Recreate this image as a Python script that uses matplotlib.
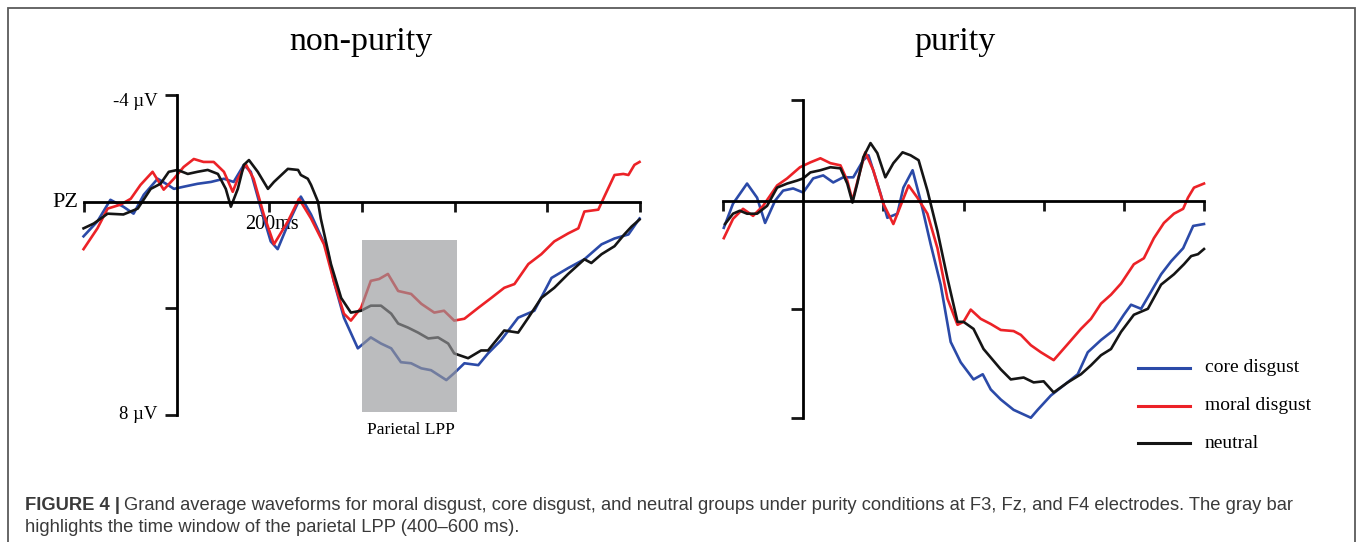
import matplotlib
matplotlib.use("Agg")
import matplotlib.pyplot as plt
from matplotlib.patches import Rectangle
import numpy as np

# ---- data (time in ms, amplitude in µV, negative plotted upward) ----
np_black_t = [-201, -179, -149, -115, -84, -56, -35, -17, 2, 24, 45, 67, 89, 106, 117, 132, 145, 156, 175, 197,
              210, 240, 262, 268, 283, 290, 305, 311, 333, 355, 376, 398, 419, 441, 463, 478, 499, 521, 543, 564,
              586, 599, 629, 657, 672, 707, 737, 759, 787, 815, 845, 880, 895, 917, 945, 966, 982, 999]
np_black_v = [1.00, 0.82, 0.45, 0.48, 0.26, -0.48, -0.67, -1.12, -1.19, -1.04, -1.12, -1.19, -1.04, -0.48, 0.19,
              -0.48, -1.38, -1.56, -1.12, -0.48, -0.74, -1.23, -1.19, -1.00, -0.86, -0.63, 0.00, 0.63, 2.34, 3.61,
              4.16, 4.09, 3.90, 3.90, 4.20, 4.57, 4.72, 4.91, 5.13, 5.09, 5.32, 5.69, 5.87, 5.58, 5.58, 4.83, 4.91,
              4.35, 3.61, 3.23, 2.71, 2.16, 2.30, 1.97, 1.67, 1.23, 0.93, 0.67]

np_red_t = [-201, -171, -149, -121, -99, -78, -52, -28, -6, 15, 37, 58, 80, 102, 121, 132, 149, 166, 188, 210,
            240, 264, 290, 318, 339, 361, 376, 398, 419, 437, 456, 478, 506, 528, 556, 577, 599, 621, 651, 679,
            707, 729, 759, 787, 815, 845, 867, 880, 910, 923, 945, 964, 975, 988, 999]
np_red_v = [1.78, 1.00, 0.26, 0.11, -0.11, -0.63, -1.12, -0.45, -0.86, -1.30, -1.60, -1.49, -1.49, -1.12, -0.37,
            -0.86, -1.41, -0.86, 0.48, 1.60, 0.74, -0.11, 0.63, 1.60, 2.97, 4.20, 4.46, 3.98, 2.97, 2.90, 2.71,
            3.35, 3.46, 3.83, 4.16, 4.09, 4.46, 4.39, 3.98, 3.61, 3.23, 3.09, 2.34, 1.97, 1.49, 1.19, 1.00, 0.37,
            0.30, -0.19, -1.00, -1.04, -1.00, -1.38, -1.49]

np_blue_t = [-201, -171, -143, -115, -93, -71, -41, -19, -6, 15, 45, 74, 102, 123, 145, 160, 182, 203, 218, 240,
             268, 290, 326, 339, 361, 391, 419, 441, 463, 484, 506, 528, 549, 582, 599, 621, 651, 672, 700, 737,
             772, 809, 845, 880, 917, 945, 975, 999]
np_blue_v = [1.30, 0.74, -0.07, 0.19, 0.45, -0.26, -0.86, -0.63, -0.48, -0.56, -0.67, -0.74, -0.86, -0.74, -1.38,
             -1.12, 0.26, 1.49, 1.78, 0.86, -0.19, 0.48, 1.86, 2.97, 4.35, 5.50, 5.09, 5.32, 5.50, 6.02, 6.06,
             6.25, 6.32, 6.69, 6.43, 6.06, 6.13, 5.69, 5.20, 4.35, 4.09, 2.86, 2.49, 2.16, 1.60, 1.38, 1.23, 0.63]

p_black_t = [-195, -175, -158, -140, -115, -90, -65, -40, -15, 0, 18, 43, 68, 93, 110, 123, 135, 150, 168, 185,
             205, 225, 248, 268, 288, 310, 335, 360, 385, 400, 425, 450, 493, 518, 550, 575, 600, 625, 660, 693,
             718, 743, 768, 793, 825, 860, 893, 925, 950, 968, 985, 1000]
p_black_v = [0.86, 0.48, 0.37, 0.48, 0.48, 0.19, -0.48, -0.63, -0.74, -0.82, -1.04, -1.12, -1.23, -1.19, -0.63,
             0.07, -0.63, -1.60, -2.12, -1.75, -0.86, -1.38, -1.78, -1.67, -1.49, -0.37, 1.12, 2.86, 4.46, 4.46,
             4.72, 5.46, 6.21, 6.58, 6.51, 6.69, 6.65, 7.06, 6.69, 6.39, 6.06, 5.69, 5.46, 4.83, 4.20, 3.98, 3.09,
             2.71, 2.34, 2.04, 1.97, 1.78]

p_red_t = [-198, -175, -150, -125, -100, -65, -40, -8, 18, 43, 68, 93, 110, 123, 138, 155, 175, 200, 225, 248,
           263, 285, 310, 335, 360, 385, 400, 418, 443, 468, 493, 525, 543, 568, 593, 625, 660, 693, 718, 743,
           768, 793, 825, 850, 875, 900, 925, 948, 960, 975, 1000]
p_red_v = [1.38, 0.67, 0.30, 0.56, 0.19, -0.56, -0.82, -1.23, -1.41, -1.56, -1.38, -1.30, -0.74, 0.00, -0.86,
           -1.78, -1.12, 0.11, 0.86, 0.00, -0.56, -0.11, 0.48, 1.75, 3.61, 4.57, 4.46, 4.01, 4.35, 4.54, 4.76,
           4.80, 4.94, 5.32, 5.58, 5.87, 5.28, 4.72, 4.35, 3.79, 3.46, 3.05, 2.34, 2.12, 1.38, 0.82, 0.48, 0.30,
           -0.11, -0.48, -0.63]

p_blue_t = [-198, -175, -140, -115, -95, -70, -50, -25, 0, 25, 50, 75, 100, 125, 150, 163, 193, 210, 235, 250,
            273, 293, 318, 343, 368, 393, 425, 448, 468, 493, 525, 568, 585, 618, 650, 685, 710, 743, 775, 800,
            818, 843, 868, 893, 918, 948, 973, 1000]
p_blue_v = [1.00, 0.11, -0.63, -0.11, 0.82, 0.00, -0.37, -0.45, -0.30, -0.82, -0.93, -0.67, -0.86, -0.86, -1.49,
            -1.67, -0.26, 0.63, 0.48, -0.48, -1.12, 0.00, 1.60, 3.09, 5.20, 5.95, 6.58, 6.39, 6.95, 7.32, 7.70,
            7.99, 7.70, 7.17, 6.80, 6.39, 5.58, 5.13, 4.76, 4.20, 3.83, 3.98, 3.35, 2.71, 2.23, 1.75, 0.93, 0.86]

x_ticks = [-200, 200, 400, 600, 800, 1000]
lpp_window = (400, 605)
lpp_range = (1.42, 7.9)

BLUE = "#2b4aa8"
RED = "#ec2227"
BLACK = "#151515"

W, H = 1358, 542
fig = plt.figure(figsize=(W / 100, H / 100), dpi=100)
fig.patch.set_facecolor("white")
SERIF = ["Liberation Serif", "DejaVu Serif"]
SANS = ["Liberation Sans", "DejaVu Sans"]


def px_axes(x0, x1, ytop, ybot):
    return fig.add_axes([x0 / W, 1 - ybot / H, (x1 - x0) / W, (ybot - ytop) / H])


def setup(ax, ytop_val, yticks):
    ax.set_xlim(-200, 1000)
    ax.set_ylim(8, -4)
    ax.patch.set_alpha(0)
    for s in ["top", "right"]:
        ax.spines[s].set_visible(False)
    ax.spines["left"].set_position(("data", 0))
    ax.spines["bottom"].set_position(("data", 0))
    ax.spines["left"].set_bounds(ytop_val, 8)
    ax.spines["left"].set_linewidth(2)
    ax.spines["bottom"].set_linewidth(2)
    ax.set_xticks(x_ticks)
    ax.set_yticks(yticks)
    ax.set_xticklabels([])
    ax.set_yticklabels([])
    ax.tick_params(axis="x", direction="out", length=7, width=2, color=BLACK)
    ax.tick_params(axis="y", direction="out", length=9, width=2, color=BLACK)


def draw_lines(ax, series):
    for t, v, c in series:
        ax.plot(t, v, color=c, lw=1.9, solid_joinstyle="round", clip_on=False)


# ---- non-purity ----
ax1 = px_axes(84, 640, 95, 415)
setup(ax1, -4, [-4, 4, 8])
draw_lines(ax1, [(np_blue_t, np_blue_v, BLUE), (np_red_t, np_red_v, RED), (np_black_t, np_black_v, BLACK)])
ax1.add_patch(Rectangle((lpp_window[0], lpp_range[0]), lpp_window[1] - lpp_window[0],
                        lpp_range[1] - lpp_range[0], facecolor="#97989b", alpha=0.65,
                        edgecolor="none", zorder=5))
ax1.text(-41, -3.75, "-4 \u00b5V", ha="right", va="center", fontsize=13.5, family=SERIF)
ax1.text(-41, 8.0, "8 \u00b5V", ha="right", va="center", fontsize=13.5, family=SERIF)
ax1.text(-212, 0.05, "PZ", ha="right", va="center", fontsize=16, family=SERIF)
ax1.text(205, 0.85, "200ms", ha="center", va="center", fontsize=14.5, family=SERIF, zorder=1)
ax1.text(505, 8.55, "Parietal LPP", ha="center", va="center", fontsize=12.5, family=SERIF)
fig.text(361 / W, 1 - 42 / H, "non-purity", ha="center", va="center", fontsize=24.5, family=SERIF)

# ---- purity ----
ax2 = px_axes(723, 1204, 92, 418)
setup(ax2, -3.7, [-3.7, 4, 8])
draw_lines(ax2, [(p_blue_t, p_blue_v, BLUE), (p_red_t, p_red_v, RED), (p_black_t, p_black_v, BLACK)])
fig.text(955 / W, 1 - 42 / H, "purity", ha="center", va="center", fontsize=24.5, family=SERIF)

# legend drawn by hand
legend_labels = ["core disgust", "moral disgust", "neutral"]
legend_colors = [BLUE, RED, BLACK]
for i, (lab, col) in enumerate(zip(legend_labels, legend_colors)):
    y = 1 - (368 + i * 37.5) / H
    fig.add_artist(plt.Line2D([1138 / W, 1190 / W], [y, y], color=col, lw=2.2))
    fig.text(1205 / W, y, lab, ha="left", va="center", fontsize=14, family=SERIF)

# ---- frame and caption ----
fig.add_artist(Rectangle((8 / W, -0.05), (1355 - 8) / W, (1 - 8 / H) + 0.05, transform=fig.transFigure,
                         facecolor="none", edgecolor="#5a5a5a", lw=1.3))

cap_color = "#3a3a3a"
cap_size = 13.2
t1 = fig.text(25 / W, 1 - 506 / H, "FIGURE 4 |", ha="left", va="center", fontsize=cap_size,
              family=SANS, weight="bold", color=cap_color)
fig.canvas.draw()
bb = t1.get_window_extent(fig.canvas.get_renderer())
fig.text((bb.x1 + 4) / W, 1 - 506 / H,
         "Grand average waveforms for moral disgust, core disgust, and neutral groups under purity "
         "conditions at F3, Fz, and F4 electrodes. The gray bar",
         ha="left", va="center", fontsize=cap_size, family=SANS, color=cap_color)
fig.text(25 / W, 1 - 528 / H, "highlights the time window of the parietal LPP (400\u2013600 ms).",
         ha="left", va="center", fontsize=cap_size, family=SANS, color=cap_color)

fig.savefig("out.png", dpi=100)
